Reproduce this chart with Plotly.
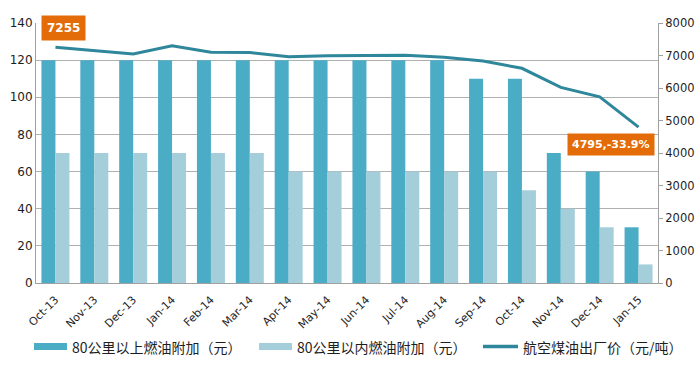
import plotly.graph_objects as go

months = ["Oct-13", "Nov-13", "Dec-13", "Jan-14", "Feb-14", "Mar-14", "Apr-14", "May-14",
          "Jun-14", "Jul-14", "Aug-14", "Sep-14", "Oct-14", "Nov-14", "Dec-14", "Jan-15"]
above80 = [120, 120, 120, 120, 120, 120, 120, 120, 120, 120, 120, 110, 110, 70, 60, 30]
within80 = [70, 70, 70, 70, 70, 70, 60, 60, 60, 60, 60, 60, 50, 40, 30, 10]
jet_fuel = [7255, 7140, 7046, 7300, 7100, 7090, 6965, 6990, 7005, 7005, 6945, 6830, 6606, 6020, 5730, 4795]

name1 = "80公里以上燃油附加（元）"
name2 = "80公里以内燃油附加（元）"
name3 = "航空煤油出厂价（元/吨）"

c_dark = "#4BACC6"
c_light = "#A5CEDB"
c_line = "#2E879B"
c_orange = "#E36C09"
c_text = "#1E1E1E"

font_main = "Verdana, DejaVu Sans, Noto Sans CJK SC"
font_cjk = "Noto Sans CJK SC"

W_FIG, H_FIG = 700, 366
M_L, M_R, M_T, M_B = 36, 42, 23, 83
PW = W_FIG - M_L - M_R
PH = H_FIG - M_T - M_B


def px(x):
    return (x - M_L) / PW


def py(y):
    return (H_FIG - M_B - y) / PH


fig = go.Figure()
fig.add_trace(go.Bar(x=months, y=above80, name=name1, marker_color=c_dark, marker_line_width=0))
fig.add_trace(go.Bar(x=months, y=within80, name=name2, marker_color=c_light, marker_line_width=0))
fig.add_trace(go.Scatter(x=months, y=jet_fuel, name=name3, yaxis="y2", mode="lines",
                         line=dict(color=c_line, width=3)))

fig.add_annotation(x=months[0], y=jet_fuel[0], yref="y2", text="<b>%d</b>" % jet_fuel[0],
                   showarrow=False, xshift=8, yshift=19, bgcolor=c_orange,
                   font=dict(color="white", size=12, family=font_main), borderpad=5)
pct = (jet_fuel[-1] / jet_fuel[0] - 1) * 100
fig.add_annotation(x=months[-1], y=jet_fuel[-1], yref="y2", text="<b>%d,%.1f%%</b>" % (jet_fuel[-1], pct),
                   showarrow=False, xshift=-28, yshift=-17, bgcolor=c_orange,
                   font=dict(color="white", size=11, family=font_main), borderpad=4)

# custom legend (Excel-style wide swatches)
legend_y = 346.5
items = [
    ("rect", c_dark, 34, 67, name1, 70),
    ("rect", c_light, 259, 292, name2, 295),
    ("line", c_line, 483, 518, name3, 521),
]
for kind, col, x0, x1, label, tx in items:
    if kind == "rect":
        fig.add_shape(type="rect", xref="paper", yref="paper",
                      x0=px(x0), x1=px(x1), y0=py(legend_y - 3.5), y1=py(legend_y + 3.5),
                      fillcolor=col, line=dict(width=0), layer="above")
    else:
        fig.add_shape(type="line", xref="paper", yref="paper",
                      x0=px(x0), x1=px(x1), y0=py(legend_y), y1=py(legend_y),
                      line=dict(color=col, width=3.5), layer="above")
    fig.add_annotation(xref="paper", yref="paper", x=px(tx), y=py(legend_y), text=label,
                       showarrow=False, xanchor="left", yanchor="middle",
                       font=dict(family=font_cjk, size=14, color=c_text))

fig.update_layout(
    width=W_FIG, height=H_FIG,
    margin=dict(l=M_L, r=M_R, t=M_T, b=M_B),
    paper_bgcolor="white", plot_bgcolor="white",
    barmode="group", bargap=0.28, bargroupgap=0,
    font=dict(family=font_main, size=12, color=c_text),
    showlegend=False,
    xaxis=dict(tickangle=-45, showline=True, linecolor="#A0A0A0", linewidth=1,
               ticks="outside", ticklen=5, tickcolor="rgba(0,0,0,0)",
               tickfont=dict(size=11), showgrid=False, automargin=False),
    yaxis=dict(range=[0, 140], dtick=20, showgrid=True, gridcolor="#B0B0B0", gridwidth=1,
               showline=True, linecolor="#A0A0A0", ticks="", tickfont=dict(size=12),
               zeroline=False, automargin=False),
    yaxis2=dict(range=[0, 8000], dtick=1000, overlaying="y", side="right", showgrid=False,
                showline=True, linecolor="#A0A0A0", ticks="outside", ticklen=4, tickcolor="#A0A0A0",
                tickfont=dict(size=11.5), zeroline=False, automargin=False),
)
fig.write_html("out.html", config={"displayModeBar": False},
               post_script="document.body.style.margin='0';document.body.style.overflow='hidden';")
